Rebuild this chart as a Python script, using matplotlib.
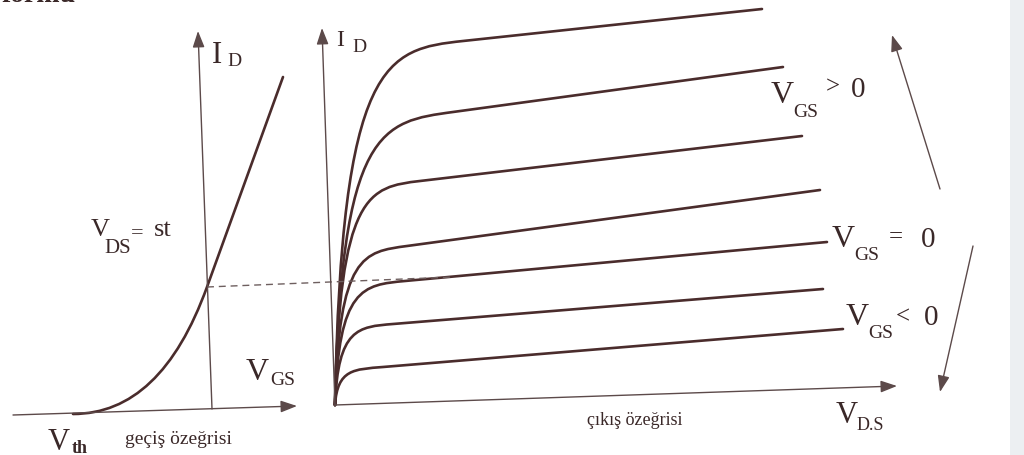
import matplotlib.pyplot as plt
from matplotlib.path import Path
from matplotlib.patches import PathPatch, Rectangle

# output characteristic curves (pixel coords of the scan): knee and end of the linear part
knee_x = [463, 453, 420, 407, 405, 393, 383]
knee_y = [42, 113, 182, 247, 282, 325, 368]
end_x = [762, 783, 802, 820, 827, 823, 843]
end_y = [10, 68, 137, 191, 243, 290, 330]
origin = (335, 406)

# transfer curve: V_th point, operating point, end
tr_x = [73, 207, 283]
tr_y = [415, 288, 78]

curve_c = '#4a2c2c'
axis_c = '#5c4a4a'
text_c = '#3a2828'
serif = 'Liberation Serif'

fig = plt.figure(figsize=(10.24, 4.56), dpi=100)
ax = fig.add_axes([0, 0, 1, 1])
ax.set_xlim(0, 1024)
ax.set_ylim(456, 0)
ax.axis('off')

# page edge on the right
ax.add_patch(Rectangle((1010, 0), 14, 456, color='#eceff2', lw=0))


def arrow(x0, y0, x1, y1):
    ax.annotate('', xy=(x1, y1), xytext=(x0, y0),
                arrowprops=dict(arrowstyle='-|>,head_length=0.55,head_width=0.2',
                                color=axis_c, lw=1.0, mutation_scale=18,
                                shrinkA=0, shrinkB=0))


# axes
arrow(13, 416, 297, 407)
arrow(212, 410, 198, 32)
arrow(335, 406, 897, 387)
arrow(335, 407, 322, 29)
# V_GS direction arrows
arrow(940, 190, 892, 36)
arrow(973, 247, 940, 393)

# transfer curve
x0, y0 = tr_x[0], tr_y[0]
slope = (tr_y[2] - tr_y[1]) / (tr_x[2] - tr_x[1])
cx = tr_x[1] + (y0 - tr_y[1]) / slope
p = Path([(x0, y0), (cx, y0), (tr_x[1], tr_y[1]), (tr_x[2], tr_y[2])],
         [Path.MOVETO, Path.CURVE3, Path.CURVE3, Path.LINETO])
ax.add_patch(PathPatch(p, fill=False, ec=curve_c, lw=1.9, capstyle='round'))

# dashed line to the output characteristic
ax.plot([tr_x[1], 453], [tr_y[1], 278], ls=(0, (5, 3.5)), color='#6e5f5f', lw=1.0)

# output characteristics
ox, oy = origin
for kx, ky, ex, ey in zip(knee_x, knee_y, end_x, end_y):
    s = (ey - ky) / (ex - kx)
    w = kx - ox
    c1 = (ox + 0.05 * w, ky + 0.05 * (oy - ky))
    c2 = (kx - 0.6 * w, ky - 0.6 * w * s)
    p = Path([(ox, oy), c1, c2, (kx, ky), (ex, ey)],
             [Path.MOVETO, Path.CURVE4, Path.CURVE4, Path.CURVE4, Path.LINETO])
    ax.add_patch(PathPatch(p, fill=False, ec=curve_c, lw=1.9, capstyle='round'))


def txt(x, y, s, size, **kw):
    ax.text(x, y, s, fontsize=size, family=serif, color=text_c,
            ha='left', va='baseline', **kw)


# cut-off heading at the top
txt(2, 2, 'formu', 20, fontweight='bold')

# left plot labels
txt(212, 63, 'I', 22)
txt(227, 66, 'D', 14)
txt(91, 236, 'V', 19)
txt(104, 253, 'DS', 15)
txt(131, 238, '=', 16)
txt(154, 236, 'st', 19)
txt(246, 380, 'V', 23)
txt(270, 385, 'GS', 14)
txt(48, 450, 'V', 22)
txt(72, 453, 'th', 13, fontweight='bold')
txt(125, 444, 'geçiş özeğrisi', 14)

# right plot labels
txt(336, 46, 'I', 17)
txt(352, 52, 'D', 14)
txt(771, 103, 'V', 23)
txt(793, 117, 'GS', 14)
txt(826, 93, '>', 18)
txt(851, 97, '0', 21)
txt(832, 247, 'V', 23)
txt(854, 260, 'GS', 14)
txt(889, 243, '=', 18)
txt(921, 247, '0', 21)
txt(846, 325, 'V', 23)
txt(868, 338, 'GS', 14)
txt(896, 323, '<', 18)
txt(924, 325, '0', 21)
txt(836, 423, 'V', 22)
txt(857, 430, 'D.S', 13)
txt(587, 425, 'çıkış özeğrisi', 13)

fig.savefig('out.png', dpi=100, facecolor='white')
